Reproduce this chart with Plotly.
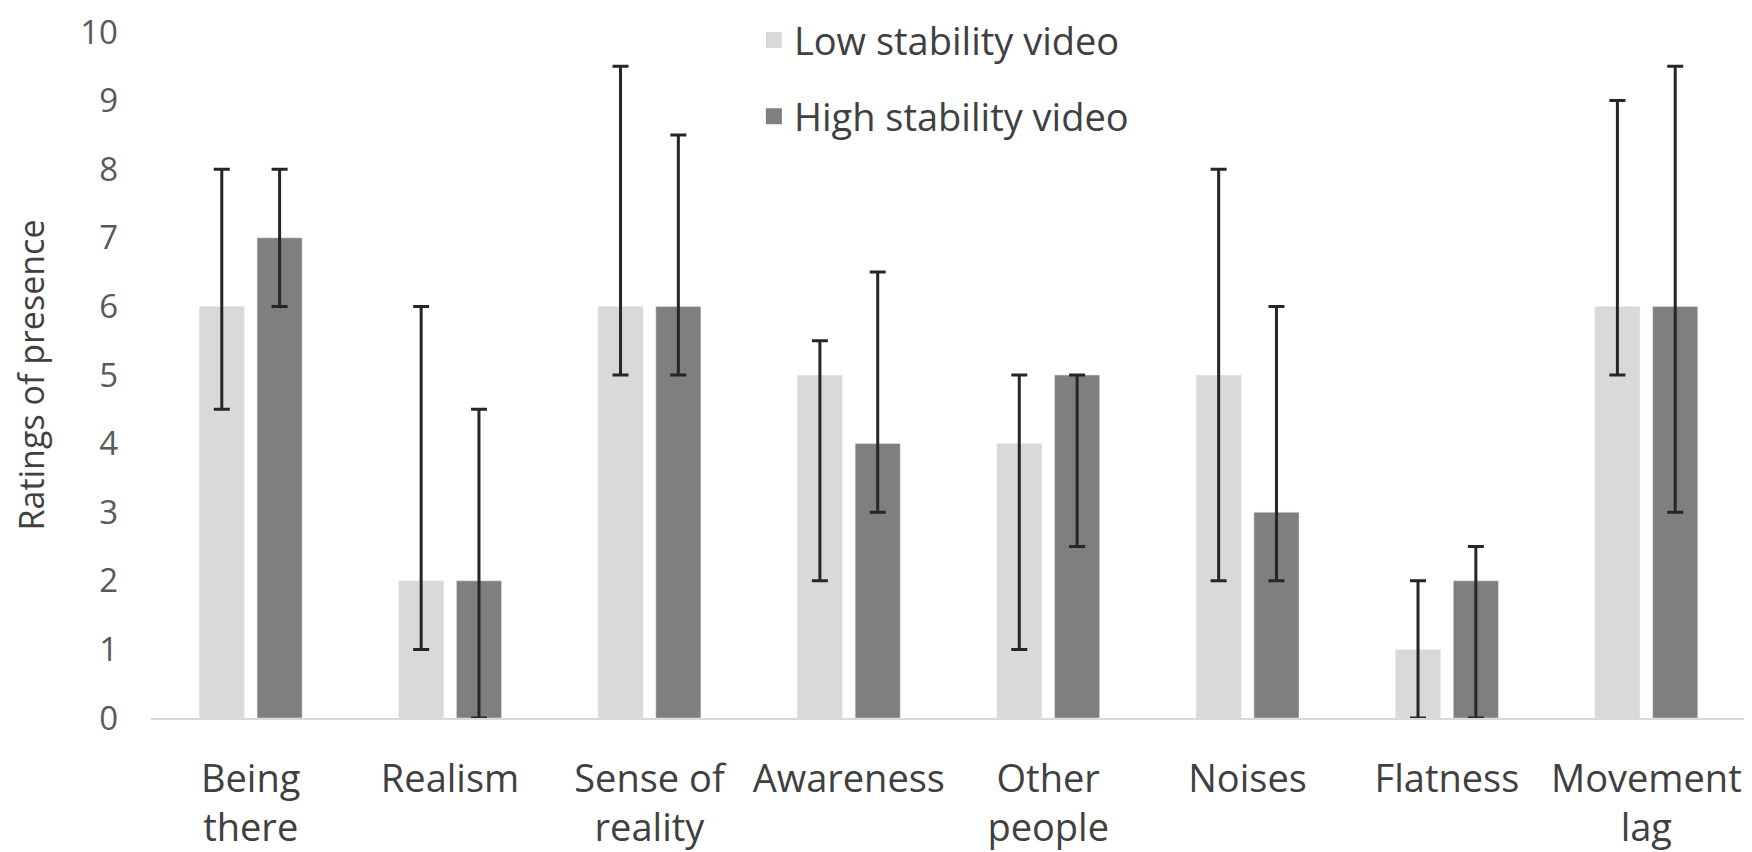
import plotly.graph_objects as go

categories = ["Being<br>there", "Realism", "Sense of<br>reality", "Awareness",
              "Other<br>people", "Noises", "Flatness", "Movement<br>lag"]
low_vals = [6, 2, 6, 5, 4, 5, 1, 6]
low_err_low = [4.5, 1, 5, 2, 1, 2, 0, 5]
low_err_high = [8, 6, 9.5, 5.5, 5, 8, 2, 9]
high_vals = [7, 2, 6, 4, 5, 3, 2, 6]
high_err_low = [6, 0, 5, 3, 2.5, 2, 0, 3]
high_err_high = [8, 4.5, 8.5, 6.5, 5, 6, 2.5, 9.5]
series_names = ["Low stability video", "High stability video"]
series_colors = ["#d9d9d9", "#7f7f7f"]

def err(vals, lo, hi):
    return dict(type="data", symmetric=False,
                array=[h - v for v, h in zip(vals, hi)],
                arrayminus=[v - l for v, l in zip(vals, lo)],
                color="#262626", thickness=3, width=8)

font = "Open Sans"
fig = go.Figure()
fig.add_bar(x=categories, y=low_vals, name=series_names[0],
            marker_color=series_colors[0], showlegend=False,
            error_y=err(low_vals, low_err_low, low_err_high))
fig.add_bar(x=categories, y=high_vals, name=series_names[1],
            marker_color=series_colors[1], showlegend=False,
            error_y=err(high_vals, high_err_low, high_err_high))
for i, (nm, col) in enumerate(zip(series_names, series_colors)):
    fig.add_scatter(x=[None], y=[None], mode="markers", name=nm,
                    legendgroup=str(i),
                    marker=dict(symbol="square", size=16, color=col))

fig.update_layout(
    width=1752, height=852,
    margin=dict(l=143, r=14, t=24, b=142, autoexpand=False),
    plot_bgcolor="white", paper_bgcolor="white",
    barmode="group", bargap=0.42, bargroupgap=0.22,
    font=dict(family=font, color="#404040", size=32),
    legend=dict(x=0.378, y=1.034, xanchor="left", yanchor="top",
                font=dict(size=38, color="#404040"), tracegroupgap=24,
                itemsizing="trace", bgcolor="rgba(0,0,0,0)"),
    yaxis=dict(range=[0, 10], dtick=1, showgrid=False, zeroline=False,
               showline=False, tickfont=dict(size=33, color="#595959"),
               ticklabelstandoff=32, ticklabeloverflow="allow",
               title=dict(text="Ratings of presence", font=dict(size=34, color="#404040"),
                          standoff=30)),
    xaxis=dict(showline=True, linecolor="#d9d9d9", linewidth=2,
               tickfont=dict(size=38, color="#404040"), ticklabelstandoff=26,
               ticklabeloverflow="allow"),
)

fig.write_html("out.html")
